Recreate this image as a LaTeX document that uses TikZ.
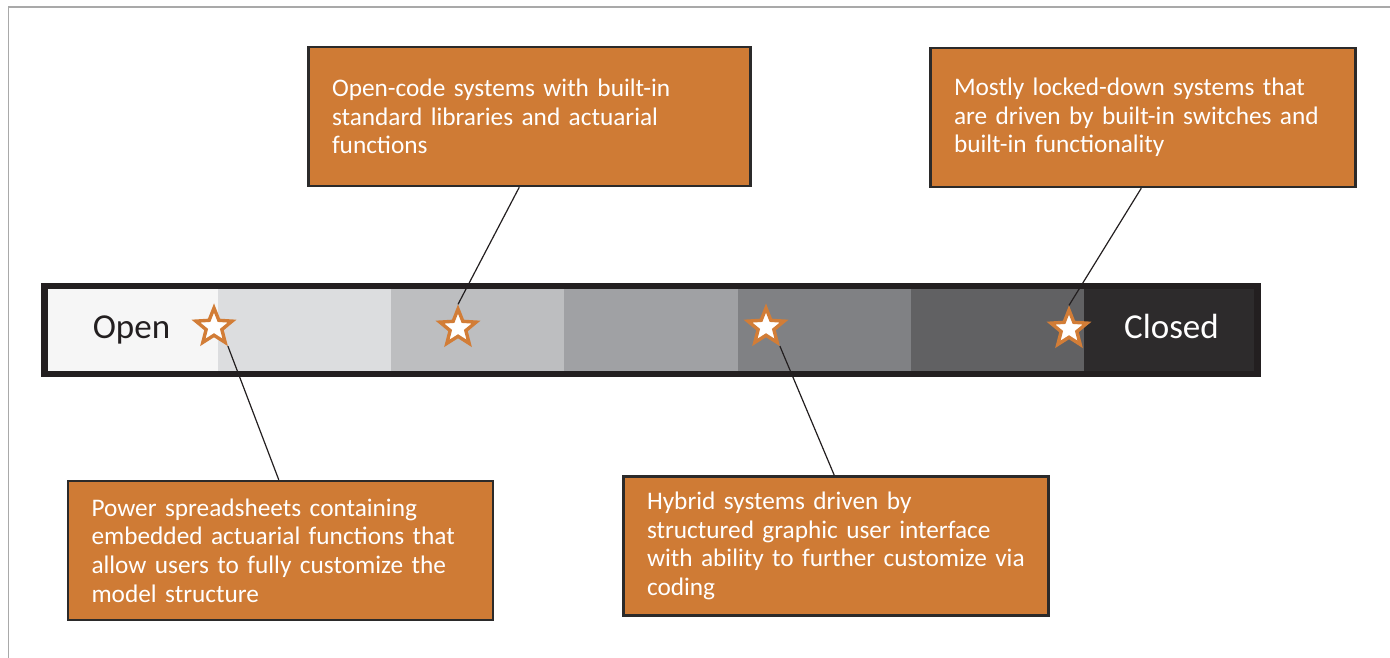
\documentclass[tikz,border=0pt]{standalone}
\usepackage{fontspec}
\setmainfont{Carlito}
\usepackage{tikz}
\usetikzlibrary{shapes,calc,positioning}
\usepackage{xcolor}
\definecolor{boxfill}{HTML}{CF7B35}
\definecolor{boxline}{HTML}{2B2A2A}
\definecolor{starline}{HTML}{D27D37}
\definecolor{barline}{HTML}{231F20}
\definecolor{frameline}{HTML}{A9A9A9}
\definecolor{barA}{HTML}{F6F6F6}
\definecolor{barB}{HTML}{DCDDDF}
\definecolor{barC}{HTML}{BDBEC0}
\definecolor{barD}{HTML}{A0A1A4}
\definecolor{barE}{HTML}{808184}
\definecolor{barF}{HTML}{616163}
\definecolor{barG}{HTML}{2D2B2C}
\tikzset{
  infobox/.style={draw=boxline, line width=2.5pt, fill=boxfill, text=white,
    minimum height=139pt, inner xsep=23.5pt, text width=#1, align=left,
    font=\fontsize{25.3}{28.6}\selectfont},
  ranking/.style={star, star points=5, star point ratio=2.3, draw=starline,
    fill=white, line width=3.4pt, minimum size=38pt, inner sep=0pt},
  pointer/.style={draw=barline, line width=1.2pt},
  endlabel/.style={anchor=base, font=\fontsize{35}{40}\selectfont}
}

\begin{document}
\begin{tikzpicture}[x=1pt, y=-1pt]
  \useasboundingbox (0,0) rectangle (1390,658);
  \draw[frameline, line width=1.2pt] (8.5,658) -- (8.5,7) -- (1390,7);
  % the open -- closed scale
  \fill[barline] (41,283) rectangle (1261,377);
  \foreach \xa/\xb/\col in {48/218.3/barA, 218.3/391/barB, 391/564/barC,
      564/737.7/barD, 737.7/911/barE, 911/1084/barF, 1084/1254.3/barG}
    \fill[\col] (\xa,289) rectangle (\xb,371);
  \node[endlabel, text=barline] (open) at (131.5,338) {Open};
  \node[endlabel, text=white] (closed) at (1171.5,338) {Closed};
  % stars on the scale
  \node[ranking] (s1) at (214,327) {};
  \node[ranking] (s2) at (458,328) {};
  \node[ranking] (s3) at (766,327) {};
  \node[ranking] (s4) at (1069,329) {};
  % text boxes
  \node[infobox=395pt] (b1) at (529.5,116.5)
   {Open-code systems with built-in\\standard libraries and actuarial\\functions};
  \node[infobox=378pt] (b2) at (1143,117.5)
   {Mostly locked-down systems that\\are driven by built-in switches and\\built-in functionality};
  \node[infobox=378pt] (b3) at (280.5,550.5)
   {Power spreadsheets containing\\embedded actuarial functions that\\allow users to fully customize the\\model structure};
  \node[infobox=378pt] (b4) at (836,546)
   {Hybrid systems driven by\\structured graphic user interface\\with ability to further customize via\\coding};
  % pointers
  \draw[pointer] (s1.outer point 4) -- ([xshift=212pt]b3.north west);
  \draw[pointer] (s2.outer point 1) -- ([xshift=212pt]b1.south west);
  \draw[pointer] (s3.outer point 4) -- ([xshift=212pt]b4.north west);
  \draw[pointer] (s4.outer point 1) -- ([xshift=212pt]b2.south west);
\end{tikzpicture}
\end{document}
